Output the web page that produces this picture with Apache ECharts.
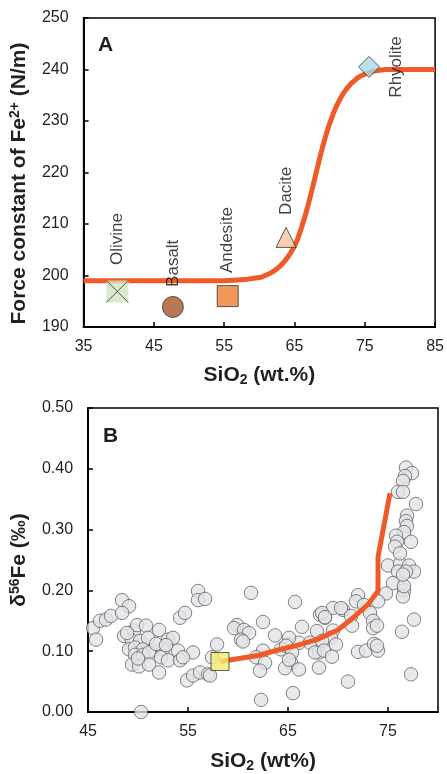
<!DOCTYPE html>
<html><head><meta charset="utf-8">
<script src="https://cdn.jsdelivr.net/npm/echarts@6/dist/echarts.min.js"></script>
<style>html,body{margin:0;padding:0;background:#fff}#c{width:447px;height:774px}</style>
</head><body><div id="c"></div>
<script>
// ---------- Panel A data ----------
const rockNames = ['Olivine', 'Basalt', 'Andesite', 'Dacite', 'Rhyolite'];
const rockSiO2 = [39.8, 47.7, 55.5, 63.8, 75.6];
const rockForce = [196.9, 193.9, 196.0, 207.4, 240.5];
const curveSiO2 = [35, 45, 55, 58, 59, 60, 60.5, 61, 61.5, 62, 62.5, 63, 63.5, 64, 64.5, 65, 65.5, 66, 66.5, 67, 67.5, 68, 68.5, 69, 69.5, 70, 70.5, 71, 71.5, 72, 72.5, 73, 73.5, 74, 74.5, 75, 76, 77, 78, 80, 85];
const curveForce = [199, 199, 199, 199.2, 199.4, 199.6, 199.8, 200.1, 200.4, 200.8, 201.3, 201.9, 202.6, 203.5, 204.5, 205.7, 207.3, 209.3, 211.5, 214.0, 216.7, 219.5, 222.3, 225.0, 227.4, 229.5, 231.4, 233.0, 234.3, 235.5, 236.4, 237.2, 237.8, 238.4, 238.8, 239.1, 239.6, 239.85, 240, 240, 240];
const ticksA_x = [35, 45, 55, 65, 75, 85];

// ---------- Panel B data ----------
const sampleSiO2 = [
  45.5,45.8,46.2,46.8,47.3,48.4,49.1,48.4,48.6,49.6,49.9,50.8,52.1,49.4,50.2,51.0,53.0,53.5,49.1,49.7,
  50.5,51.5,52.5,54.0,49.7,50.5,51.1,55.5,52.3,53.0,54.2,54.5,49.4,50.1,51.1,52.1,54.9,55.5,56.2,57.0,
  54.2,54.7,56.0,56.0,56.7,50.3,57.9,57.4,57.2,51.8,48.9,52.8,50.0,
  61.3,65.7,59.9,59.6,60.6,61.1,60.3,60.5,62.5,63.7,62.5,61.8,62.7,62.2,64.3,65.0,65.3,64.7,66.1,66.4,
  66.1,67.9,68.2,68.7,67.2,68.1,68.1,62.3,65.5,65.1,64.8,65.4,65.1,67.7,
  75.0,76.2,77.1,77.6,76.0,76.8,75.5,76.6,76.5,74.8,74.0,72.0,71.8,72.6,73.2,73.5,73.5,73.9,77.6,76.4,
  69.5,70.5,68.4,68.7,71.3,71.4,69.5,69.3,68.4,69.8,68.6,69.4,72.0,72.8,73.6,74.0,73.9,71.0,77.3,76.6,70.3,
  76.8,77.4,76.7,76.5,76.0,76.5,77.8,76.9,76.8,76.9,76.6,75.8,77.3,75.9,75.7,76.2,76.5
];
const sampleD56Fe = [
  0.138,0.119,0.150,0.152,0.158,0.184,0.174,0.163,0.125,0.134,0.143,0.142,0.135,0.117,0.117,0.122,0.119,0.122,0.103,0.106,
  0.103,0.101,0.103,0.101,0.094,0.094,0.098,0.098,0.090,0.085,0.085,0.090,0.078,0.075,0.078,0.065,0.052,0.060,0.065,0.062,
  0.155,0.163,0.199,0.184,0.186,0.000,0.111,0.090,0.060,0.112,0.130,0.110,0.088,
  0.196,0.181,0.143,0.138,0.135,0.130,0.119,0.116,0.148,0.126,0.101,0.090,0.081,0.068,0.103,0.111,0.081,0.072,0.070,0.140,
  0.114,0.133,0.160,0.155,0.114,0.098,0.073,0.020,0.031,0.122,0.109,0.098,0.086,0.098,
  0.241,0.244,0.241,0.231,0.231,0.231,0.212,0.200,0.190,0.195,0.182,0.192,0.182,0.176,0.163,0.150,0.138,0.142,0.152,0.132,
  0.171,0.168,0.163,0.156,0.158,0.142,0.134,0.122,0.117,0.111,0.101,0.091,0.099,0.101,0.112,0.101,0.109,0.050,0.062,0.207,0.171,
  0.402,0.393,0.388,0.380,0.362,0.362,0.342,0.323,0.314,0.306,0.296,0.290,0.280,0.280,0.272,0.261,0.226
];
const trendSiO2 = [58.2, 62, 64, 66, 68, 70, 71.5, 73, 74, 74, 75.2];
const trendD56Fe = [0.083, 0.093, 0.102, 0.110, 0.120, 0.135, 0.155, 0.177, 0.199, 0.255, 0.36];
const startSiO2 = [58.2];
const startD56Fe = [0.083];
const ticksB_x = [45, 55, 65, 75];

// ---------- styles ----------
const FF = "'Liberation Sans', Arial, Helvetica, sans-serif";
const TXT = '#231f20';
const RED = '#f05a28';
const rockStyle = [
  {symbol: 'rect', size: 22, color: '#d3e4c3', border: 'rgba(0,0,0,0)', dist: 15},
  {symbol: 'circle', size: 21, color: '#a9552a', border: '#333', dist: 9},
  {symbol: 'rect', size: 21, color: '#ee7d31', border: '#333', dist: 12},
  {symbol: 'triangle', size: 20, color: '#f8c4a4', border: '#333', dist: 12},
  {symbol: 'diamond', size: 21, color: '#a7dbe8', border: '#333', dist: 16}
];

function titleStyle(pad) {
  return {
    fontSize: 21, fontWeight: 'bold', color: TXT, fontFamily: FF, lineHeight: 23, padding: pad,
    rich: {
      sub: {fontSize: 14, fontWeight: 'bold', color: TXT, fontFamily: FF, lineHeight: 12, verticalAlign: 'bottom'},
      sup: {fontSize: 14, fontWeight: 'bold', color: TXT, fontFamily: FF, lineHeight: 12, verticalAlign: 'top'}
    }
  };
}
const axisLineStyle = {show: true, lineStyle: {color: '#000', width: 2}};
const tickStyle = {show: true, inside: true, length: 5, lineStyle: {color: '#000', width: 1.5}};
const labelStyle = {fontSize: 16, color: TXT, fontFamily: FF};

const chart = echarts.init(document.getElementById('c'), null, {renderer: 'canvas'});

const rockData = rockNames.map((n, i) => {
  const s = rockStyle[i];
  const isRhy = i === 4;
  return {
    name: n,
    value: [rockSiO2[i], rockForce[i]],
    symbol: s.symbol,
    symbolSize: s.size,
    itemStyle: {color: s.color, borderColor: s.border, borderWidth: 1},
    label: {
      show: true, formatter: n, rotate: 90,
      position: isRhy ? 'right' : 'top',
      distance: s.dist,
      align: isRhy ? 'center' : 'left',
      verticalAlign: 'middle',
      fontSize: 17, color: '#111', fontFamily: FF, textBorderWidth: 0
    }
  };
});

chart.setOption({
  animation: false,
  title: [
    {text: 'A', left: 98, top: 35, padding: 0, textStyle: {fontSize: 21, fontWeight: 'bold', color: TXT, fontFamily: FF}},
    {text: 'B', left: 103, top: 426, padding: 0, textStyle: {fontSize: 21, fontWeight: 'bold', color: TXT, fontFamily: FF}}
  ],
  grid: [
    {left: 78, top: 18, width: 359, height: 309, show: true, borderColor: '#000', borderWidth: 1.5, containLabel: false},
    {left: 80, top: 408, width: 358, height: 307, show: true, borderColor: '#000', borderWidth: 1.5, containLabel: false}
  ],
  xAxis: [
    {
      gridIndex: 0, type: 'value', min: 35, max: 85,
      name: 'SiO{sub|2} (wt.%)', nameLocation: 'middle', nameGap: 37, nameTextStyle: titleStyle(0),
      axisLine: axisLineStyle, splitLine: {show: false},
      axisTick: Object.assign({customValues: ticksA_x}, tickStyle),
      axisLabel: Object.assign({customValues: ticksA_x, margin: 12}, labelStyle)
    },
    {
      gridIndex: 1, type: 'value', min: 45, max: 80,
      name: 'SiO{sub|2} (wt%)', nameLocation: 'middle', nameGap: 38, nameTextStyle: titleStyle(0),
      axisLine: axisLineStyle, splitLine: {show: false},
      axisTick: Object.assign({customValues: ticksB_x}, tickStyle),
      axisLabel: Object.assign({customValues: ticksB_x, margin: 12}, labelStyle)
    }
  ],
  yAxis: [
    {
      gridIndex: 0, type: 'value', min: 190, max: 250, interval: 10,
      name: 'Force constant of Fe{sup|2+} (N/m)', nameLocation: 'middle', nameRotate: 90, nameGap: 45,
      nameTextStyle: titleStyle([0, 22, 0, 0]),
      axisLine: axisLineStyle, splitLine: {show: false}, axisTick: tickStyle,
      axisLabel: Object.assign({margin: 15}, labelStyle)
    },
    {
      gridIndex: 1, type: 'value', min: 0, max: 0.5, interval: 0.1,
      name: 'δ{sup|56}Fe (‰)', nameLocation: 'middle', nameRotate: 90, nameGap: 45,
      nameTextStyle: titleStyle(0),
      axisLine: axisLineStyle, splitLine: {show: false}, axisTick: tickStyle,
      axisLabel: Object.assign({margin: 15, formatter: v => v.toFixed(2)}, labelStyle)
    }
  ],
  series: [
    {
      type: 'line', xAxisIndex: 0, yAxisIndex: 0, z: 3,
      data: curveSiO2.map((x, i) => [x, curveForce[i]]),
      smooth: false, showSymbol: false, symbol: 'none',
      lineStyle: {color: RED, width: 5, join: 'round'}
    },
    {
      type: 'scatter', xAxisIndex: 0, yAxisIndex: 0, z: 4,
      data: rockData
    },
    {
      type: 'scatter', xAxisIndex: 0, yAxisIndex: 0, z: 5,
      symbol: 'path://M0,0L10,10M10,0L0,10', symbolSize: 22,
      itemStyle: {color: 'none', borderColor: '#333', borderWidth: 1},
      data: [[rockSiO2[0], rockForce[0]]]
    },
    {
      type: 'scatter', xAxisIndex: 1, yAxisIndex: 1, z: 3, clip: false,
      symbol: 'circle', symbolSize: 13.5,
      itemStyle: {color: '#e2e3e7', borderColor: '#555', borderWidth: 0.9},
      data: sampleSiO2.map((x, i) => [x, sampleD56Fe[i]])
    },
    {
      type: 'line', xAxisIndex: 1, yAxisIndex: 1, z: 4,
      data: trendSiO2.map((x, i) => [x, trendD56Fe[i]]),
      showSymbol: false, symbol: 'none', smooth: false,
      lineStyle: {color: RED, width: 5, join: 'miter'}
    },
    {
      type: 'scatter', xAxisIndex: 1, yAxisIndex: 1, z: 5,
      symbol: 'rect', symbolSize: 18,
      itemStyle: {color: '#f2ec6c', borderColor: '#333', borderWidth: 1},
      data: startSiO2.map((x, i) => [x, startD56Fe[i]])
    }
  ]
});
</script>
</body></html>
